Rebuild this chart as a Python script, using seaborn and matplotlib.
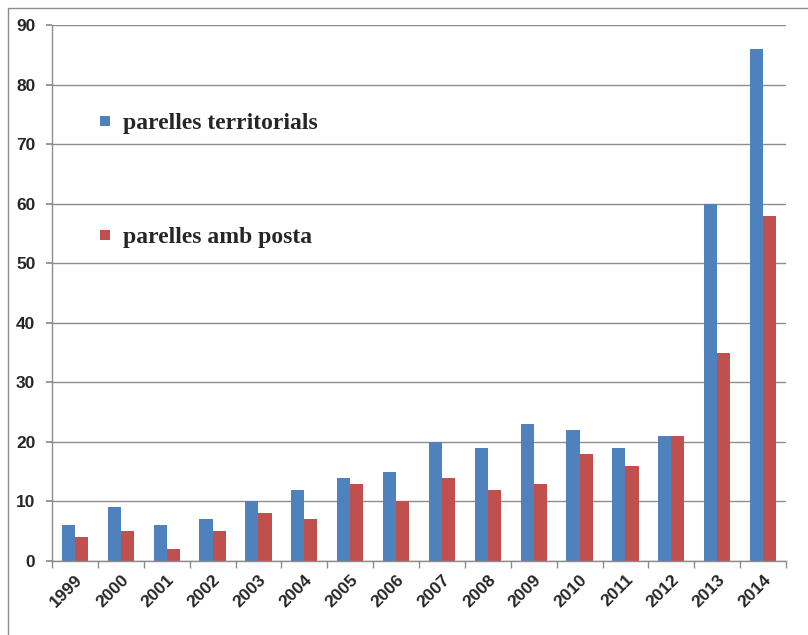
#!/usr/bin/env python3
"""Bar chart: parelles territorials vs parelles amb posta, 1999-2014."""
import matplotlib

matplotlib.use("Agg")
import matplotlib.pyplot as plt  # noqa: E402
import numpy as np  # noqa: E402
import pandas as pd  # noqa: E402
import seaborn as sns  # noqa: E402
from matplotlib.lines import Line2D  # noqa: E402
from matplotlib.patches import Rectangle  # noqa: E402

years = [str(y) for y in range(1999, 2015)]
territorials = [6, 9, 6, 7, 10, 12, 14, 15, 20, 19, 23, 22, 19, 21, 60, 86]
amb_posta = [4, 5, 2, 5, 8, 7, 13, 10, 14, 12, 13, 18, 16, 21, 35, 58]
series_names = ["parelles territorials", "parelles amb posta"]
colors = ["#4F81BD", "#C0504D"]
y_ticks = list(range(0, 91, 10))

df = pd.DataFrame({
    "year": years * 2,
    "value": territorials + amb_posta,
    "series": [series_names[0]] * len(years) + [series_names[1]] * len(years),
})

sns.set_theme(style="white")
plt.rcParams["font.family"] = ["Liberation Sans", "DejaVu Sans"]

fig = plt.figure(figsize=(8.08, 6.35), dpi=100)
ax = fig.add_axes([52 / 808, 74 / 635, 734 / 808, 536 / 635])

sns.barplot(data=df, x="year", y="value", hue="series", palette=colors,
            width=0.57, gap=0, saturation=1, linewidth=0, ax=ax, legend=False)

ax.set_xlim(-0.5, len(years) - 0.5)
ax.set_ylim(0, 90)
ax.set_yticks(y_ticks)
ax.set_xlabel("")
ax.set_ylabel("")
ax.yaxis.grid(True, color="#8c8c8c", linewidth=1)
ax.set_axisbelow(True)
for side in ["top", "right"]:
    ax.spines[side].set_visible(False)
for side in ["left", "bottom"]:
    ax.spines[side].set_color("#8c8c8c")
    ax.spines[side].set_linewidth(1)

ax.set_xticks(np.arange(-0.5, len(years)), minor=True)
ax.tick_params(axis="x", which="major", length=0, pad=8)
ax.tick_params(axis="x", which="minor", length=5, color="#8c8c8c", direction="out",
               bottom=True)
ax.tick_params(axis="y", length=4, color="#8c8c8c", direction="out", left=True, pad=8)
for lbl in ax.get_yticklabels():
    lbl.set_fontsize(12.5)
    lbl.set_fontweight("bold")
for lbl in ax.get_xticklabels():
    lbl.set_fontsize(12.5)
    lbl.set_fontweight("bold")
    lbl.set_rotation(45)
    lbl.set_ha("right")
    lbl.set_rotation_mode("anchor")

handles = [Line2D([0], [0], marker="s", linestyle="none", markersize=6.5,
                  markerfacecolor=c, markeredgewidth=0) for c in colors]
ax.legend(handles, series_names, loc="upper left", bbox_to_anchor=(0.062, 0.836),
          frameon=False, handlelength=0.6, handletextpad=0.49,
          labelspacing=3.89, borderaxespad=0, borderpad=0,
          prop={"family": "Liberation Serif", "weight": "bold", "size": 17})

# outer chart frame
fig.patches.append(Rectangle((8 / 808, -0.1), 1.2, (635 - 8) / 635 + 0.1,
                             transform=fig.transFigure, fill=False,
                             edgecolor="#8c8c8c", linewidth=1))

fig.savefig("out.png", dpi=100)
plt.close(fig)
